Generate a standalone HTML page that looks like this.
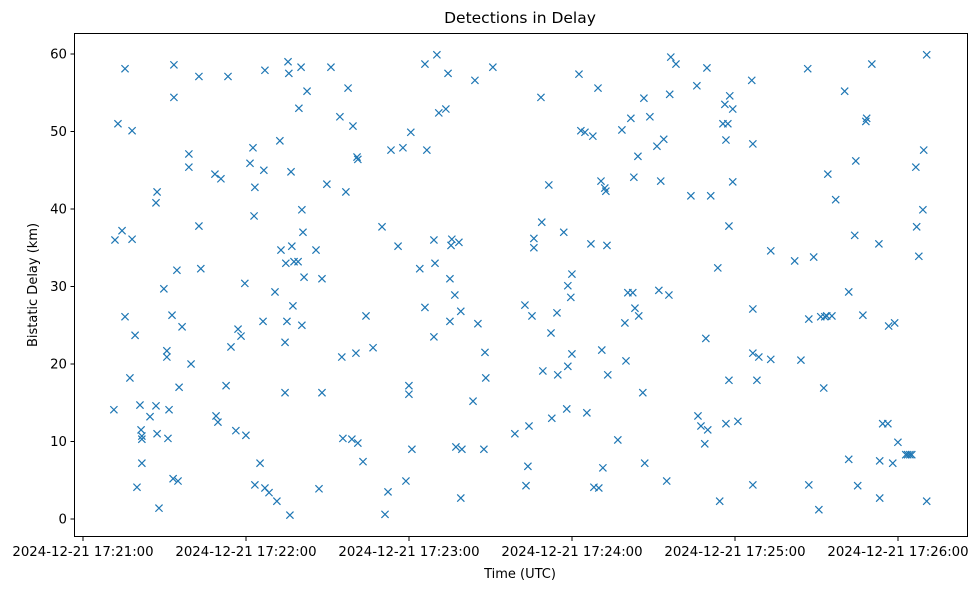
<!DOCTYPE html>
<html><head><meta charset="utf-8"><style>
html,body{margin:0;padding:0;background:#fff;}
svg{display:block;font-family:"DejaVu Sans","Liberation Sans",sans-serif;}
</style></head><body>
<svg id="chart" width="979" height="590" viewBox="0 0 979 590" xmlns="http://www.w3.org/2000/svg">
<rect x="0" y="0" width="979" height="590" fill="#fff"/>
<text x="520" y="23" font-size="15.5" text-anchor="middle" fill="#000">Detections in Delay</text>
<text x="520" y="578" font-size="13" text-anchor="middle" fill="#000">Time (UTC)</text>
<text x="0" y="0" font-size="13" text-anchor="middle" fill="#000" transform="translate(37,285) rotate(-90)">Bistatic Delay (km)</text>
<g id="ticks"></g>
<g id="marks"></g>
<rect x="74.5" y="33.5" width="893" height="503" fill="none" stroke="#000" stroke-width="1"/>
</svg>
<script>
// seconds after 2024-12-21 17:21:00
const times = [11.0,11.4,12.5,14.0,15.1,15.1,16.9,17.7,17.7,18.8,19.5,20.6,21.0,21.3,21.3,21.3,24.3,26.5,26.5,26.9,26.9,27.6,29.4,30.5,30.5,30.9,31.3,32.4,32.8,33.1,33.1,34.2,34.6,35.0,36.1,38.6,38.6,39.4,42.3,42.3,43.0,48.2,48.6,49.3,50.4,52.3,53.0,54.1,55.9,56.7,57.8,59.2,59.6,61.1,62.2,62.6,62.9,62.9,64.8,65.9,66.2,66.6,66.6,68.1,70.3,71.0,72.1,72.5,74.0,74.0,74.3,74.7,75.1,75.4,75.8,76.2,76.5,76.9,77.3,78.8,79.1,79.9,80.2,80.2,80.6,81.0,82.1,85.4,86.5,87.6,87.6,89.4,90.9,94.2,94.9,95.3,96.4,97.2,98.6,99.0,100.1,100.5,100.8,100.8,102.7,103.8,106.4,109.7,110.8,111.9,113.0,115.6,117.4,118.5,119.6,119.6,120.3,120.7,123.6,125.5,125.5,126.2,128.8,128.8,129.2,129.9,130.6,133.2,134.0,134.7,134.7,135.1,135.4,136.5,136.9,138.0,138.7,138.7,139.1,143.2,143.9,145.0,147.2,147.6,147.9,150.5,158.6,162.3,162.7,163.4,163.8,164.9,165.6,165.6,168.2,168.5,168.9,171.1,171.9,172.2,174.1,174.4,176.6,177.7,178.1,178.1,179.2,179.6,179.6,182.2,182.9,184.4,185.1,186.6,187.3,187.7,189.2,189.5,190.3,190.6,191.0,191.7,192.1,192.5,192.8,196.5,198.0,199.1,199.5,200.2,201.3,202.0,202.4,202.8,203.9,204.2,205.7,206.1,206.4,208.3,210.9,211.6,212.3,213.4,214.5,215.3,215.6,216.0,217.9,223.4,225.6,226.0,227.1,228.5,228.9,229.3,229.6,230.7,233.3,234.0,235.2,235.9,236.3,236.3,237.0,237.4,237.4,237.7,238.8,238.8,240.7,245.8,246.2,246.2,246.2,246.2,247.7,248.4,252.8,252.8,261.6,263.9,266.4,266.8,266.8,268.6,270.5,271.2,272.3,272.7,273.4,273.8,275.3,276.7,280.0,281.5,281.5,283.7,284.1,284.8,286.7,287.8,288.1,290.0,292.6,292.9,292.9,294.0,295.9,296.2,297.7,298.4,299.6,302.5,303.2,304.0,304.7,306.2,306.5,307.3,308.8,309.1,310.2,310.2];
const delays = [14.1,36.0,51.0,37.2,58.1,26.1,18.2,50.1,36.1,23.7,4.1,14.7,11.5,10.7,10.3,7.2,13.2,14.6,40.8,42.2,11.0,1.4,29.7,21.7,20.9,10.4,14.1,26.3,5.2,58.6,54.4,32.1,4.9,17.0,24.8,47.1,45.4,20.0,37.8,57.1,32.3,44.5,13.3,12.5,43.9,17.2,57.1,22.2,11.4,24.5,23.6,30.4,10.8,45.9,47.9,39.1,42.8,4.4,7.2,25.5,45.0,57.9,4.0,3.4,29.3,2.3,48.8,34.7,22.8,16.3,33.0,25.5,59.0,57.5,0.5,44.8,35.2,27.5,33.2,33.2,53.0,58.3,39.9,25.0,37.0,31.2,55.2,34.7,3.9,16.3,31.0,43.2,58.3,51.9,20.9,10.4,42.2,55.6,10.3,50.7,21.4,46.7,9.8,46.4,7.4,26.2,22.1,37.7,0.6,3.5,47.6,35.2,47.9,4.9,17.2,16.1,49.9,9.0,32.3,58.7,27.3,47.6,23.5,36.0,33.0,59.9,52.4,52.9,57.5,31.0,25.5,35.3,36.1,28.9,9.3,35.7,2.7,26.8,9.0,15.2,56.6,25.2,9.0,21.5,18.2,58.3,11.0,27.6,4.3,6.8,12.0,26.2,36.2,35.0,54.4,38.3,19.1,43.1,24.0,13.0,26.6,18.6,37.0,14.2,19.7,30.1,28.6,31.6,21.3,57.4,50.1,49.9,13.7,35.5,49.4,4.1,55.6,4.0,43.6,21.8,6.6,42.7,42.3,35.3,18.6,10.2,50.2,25.3,20.4,29.2,51.7,29.2,44.1,27.2,46.8,26.2,16.3,54.3,7.2,51.9,48.1,29.5,43.6,49.0,4.9,28.9,54.8,59.6,58.7,41.7,55.9,13.3,12.0,9.7,23.3,58.2,11.5,41.7,32.4,2.3,51.0,53.5,48.9,12.3,51.0,37.8,17.9,54.6,43.5,52.9,12.6,56.6,48.4,27.1,4.4,21.4,17.9,20.9,34.6,20.6,33.3,20.5,58.1,25.8,4.4,33.8,1.2,26.1,16.9,26.1,26.2,44.5,26.2,41.2,55.2,29.3,7.7,36.6,46.2,4.3,26.3,51.3,51.7,58.7,35.5,7.5,2.7,12.3,12.3,24.9,7.2,25.3,9.9,8.3,8.3,8.3,8.3,45.4,37.7,33.9,39.9,47.6,59.9,2.3];
const xTickSeconds = [0,60,120,180,240,300];
const xTickLabels = ["2024-12-21 17:21:00","2024-12-21 17:22:00","2024-12-21 17:23:00","2024-12-21 17:24:00","2024-12-21 17:25:00","2024-12-21 17:26:00"];
const yTickValues = [0,10,20,30,40,50,60];

const NS = "http://www.w3.org/2000/svg";
function xScale(s){ return 84 + s * (163/60); }
function yScale(v){ return 519 - v * (465/60); }
const ticks = document.getElementById('ticks');
const marks = document.getElementById('marks');
function mk(tag, attrs, parent){
  const e = document.createElementNS(NS, tag);
  for (const k in attrs) e.setAttribute(k, attrs[k]);
  parent.appendChild(e); return e;
}
xTickSeconds.forEach((s,i)=>{
  const x = xScale(s) - 1;
  const l = mk('line',{x1:x,x2:x,y1:537,y2:541,stroke:'#000','stroke-width':1},ticks);
  
  
  const t = mk('text',{x:x,y:556,'font-size':13.3,'text-anchor':'middle',fill:'#000'},ticks);
  
  
  t.textContent = xTickLabels[i];
});
yTickValues.forEach(v=>{
  const y = yScale(v);
  const l = mk('line',{x1:70.5,x2:74.5,y1:y,y2:y,stroke:'#000','stroke-width':1},ticks);
  
  
  const t = mk('text',{x:67,y:y+4.5,'font-size':13.3,'text-anchor':'end',fill:'#000'},ticks);
  
  
  t.textContent = String(v);
});
times.forEach((s,i)=>{
  const x = xScale(s), y = yScale(delays[i]), r = 3.6;
  const p = mk('path',{d:`M${x-r},${y-r}L${x+r},${y+r}M${x-r},${y+r}L${x+r},${y-r}`,stroke:'#1f77b4','stroke-width':1.2,fill:'none'},marks);
  
  
});
</script>
</body></html>
